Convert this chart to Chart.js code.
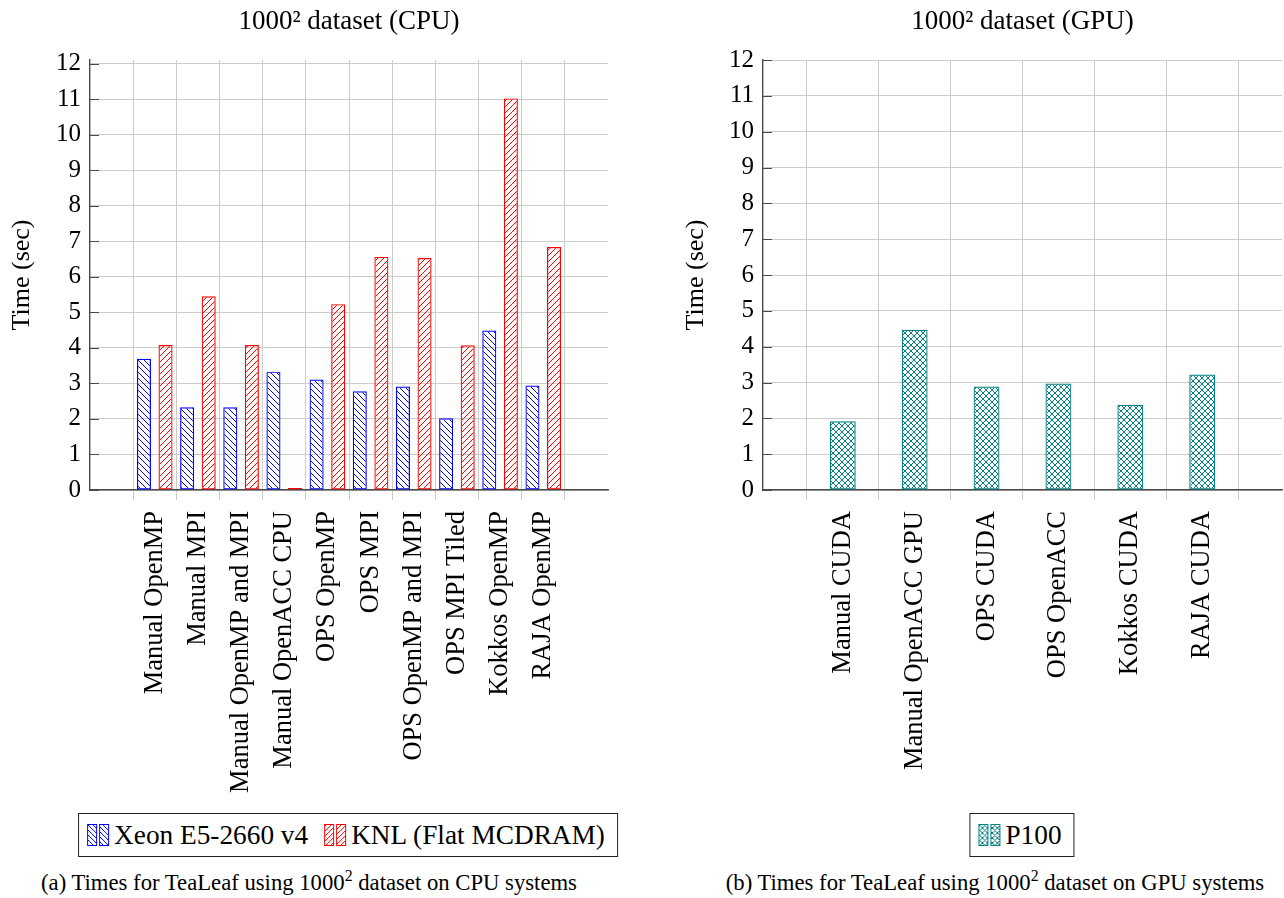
<!DOCTYPE html>
<html lang="en">
<head>
  <meta charset="UTF-8" />
  <title>TeaLeaf 1000^2 timings</title>
  <script src="https://cdn.jsdelivr.net/npm/chart.js"></script>
  <style>
    body {
      margin: 0;
      background: #fff;
      font-family: "Liberation Serif", serif;
      color: #000;
    }
    .wrap {
      position: relative;
      width: 1284px;
      height: 898px;
      overflow: hidden;
    }
    .wrap > canvas {
      position: absolute;
      top: 0;
    }
    #cpuChart { left: 0; }
    #gpuChart { left: 650px; }
    .legend {
      position: absolute;
      top: 813px;
      height: 44px;
      box-sizing: border-box;
      border: 1.3px solid #222;
      display: flex;
      align-items: center;
      padding: 0 12px 0 7px;
      font-size: 27.3px;
      white-space: nowrap;
      transform: translateX(-50%);
    }
    .legend canvas { margin-right: 4px; }
    .legend .gap { width: 15px; }
    .caption {
      position: absolute;
      top: 870px;
      font-size: 22.7px;
      line-height: 26px;
      white-space: nowrap;
      transform: translateX(-50%);
    }
    .caption sup {
      font-size: 0.7em;
      line-height: 0;
    }
  </style>
</head>
<body>
  <div class="wrap">
    <canvas id="cpuChart" width="620" height="800"></canvas>
    <canvas id="gpuChart" width="634" height="800"></canvas>
    <div class="legend" id="cpuLegend" style="left:348px"></div>
    <div class="legend" id="gpuLegend" style="left:1022px"></div>
    <div class="caption" style="left:309px">(a) Times for TeaLeaf using 1000<sup>2</sup> dataset on CPU systems</div>
    <div class="caption" style="left:995px">(b) Times for TeaLeaf using 1000<sup>2</sup> dataset on GPU systems</div>
  </div>

  <script>
    // values (seconds)
    const cpuLabels = ['Manual OpenMP', 'Manual MPI', 'Manual OpenMP and MPI', 'Manual OpenACC CPU',
      'OPS OpenMP', 'OPS MPI', 'OPS OpenMP and MPI', 'OPS MPI Tiled', 'Kokkos OpenMP', 'RAJA OpenMP'];
    const xeonTimes = [3.69, 2.33, 2.33, 3.33, 3.11, 2.78, 2.91, 2.02, 4.49, 2.94];
    const knlTimes = [4.08, 5.45, 4.08, 0, 5.23, 6.56, 6.53, 4.07, 11.02, 6.84];

    const gpuLabels = ['Manual CUDA', 'Manual OpenACC GPU', 'OPS CUDA', 'OPS OpenACC', 'Kokkos CUDA', 'RAJA CUDA'];
    const p100Times = [1.92, 4.47, 2.89, 2.97, 2.38, 3.22];

    const GRID = '#cccccc';
    const AXIS = '#4a4a4a';
    const FONT = 'Liberation Serif';

    Chart.defaults.font.family = FONT;
    Chart.defaults.color = '#000';

    // small repeating hatch tiles, like pgfplots patterns
    function hatch(color, kind, size) {
      const s = size || 6;
      const c = document.createElement('canvas');
      c.width = c.height = s;
      const g = c.getContext('2d');
      g.strokeStyle = color;
      g.lineWidth = 1;
      g.beginPath();
      if (kind !== 'ne') {
        g.moveTo(0, 0); g.lineTo(s, s);
        g.moveTo(-1, s - 1); g.lineTo(1, s + 1);
        g.moveTo(s - 1, -1); g.lineTo(s + 1, 1);
      }
      if (kind !== 'nw') {
        g.moveTo(0, s); g.lineTo(s, 0);
        g.moveTo(-1, 1); g.lineTo(1, -1);
        g.moveTo(s - 1, s + 1); g.lineTo(s + 1, s - 1);
      }
      g.stroke();
      return g.createPattern(c, 'repeat');
    }

    // short dark tick marks pointing into the plot on the y axis
    const innerYTicks = {
      id: 'innerYTicks',
      beforeDatasetsDraw(chart) {
        const y = chart.scales.y;
        const ctx = chart.ctx;
        ctx.save();
        ctx.strokeStyle = AXIS;
        ctx.lineWidth = 1;
        y.ticks.forEach(t => {
          const py = Math.round(y.getPixelForValue(t.value)) + 0.5;
          ctx.beginPath();
          ctx.moveTo(y.right, py);
          ctx.lineTo(y.right + 9, py);
          ctx.stroke();
        });
        ctx.restore();
      }
    };

    // categories sit at i + 0.5, grid lines at the integers between them
    function xTickValues(n) {
      const v = [];
      for (let i = 0; i <= n; i++) {
        v.push(i);
        if (i < n) v.push(i + 0.5);
      }
      return v;
    }

    function makeOptions(o) {
      return {
        responsive: false,
        animation: false,
        layout: { padding: { left: o.padLeft, right: o.padRight, top: 0, bottom: 0 } },
        plugins: {
          legend: { display: false },
          tooltip: { enabled: false },
          title: {
            display: true,
            text: o.title,
            fullSize: false,
            font: { size: 27, weight: 'normal' },
            padding: { top: 6, bottom: 21.6 }
          }
        },
        scales: {
          x: {
            type: 'linear',
            offset: false,
            min: o.xMin,
            max: o.xMax,
            afterBuildTicks: (scale) => {
              scale.ticks = xTickValues(o.labels.length).map(v => ({ value: v }));
            },
            afterFit: (scale) => { scale.height = 310; },
            ticks: {
              autoSkip: false,
              minRotation: 90,
              maxRotation: 90,
              padding: 11,
              font: { size: 26.5 },
              callback: (value) => Number.isInteger(value) ? '' : o.labels[Math.floor(value)]
            },
            grid: {
              offset: false,
              color: (ctx) => ctx.tick && Number.isInteger(ctx.tick.value) ? GRID : 'rgba(0,0,0,0)',
              lineWidth: 1,
              tickLength: 10
            },
            border: { color: AXIS, width: 1.4 }
          },
          y: {
            min: 0,
            max: o.yMax,
            afterFit: (scale) => { scale.width = o.yWidth; },
            ticks: {
              stepSize: 1,
              includeBounds: false,
              padding: 9,
              font: { size: 25 }
            },
            grid: { color: GRID, lineWidth: 1, drawTicks: false },
            border: { color: AXIS, width: 1.4 },
            title: {
              display: true,
              text: 'Time (sec)',
              font: { size: 26 }
            }
          }
        }
      };
    }

    const toPoints = (arr) => arr.map((v, i) => ({ x: i + 0.5, y: v }));

    const cpuChart = new Chart(document.getElementById('cpuChart'), {
      type: 'bar',
      data: {
        datasets: [
          {
            label: 'Xeon E5-2660 v4',
            data: toPoints(xeonTimes),
            backgroundColor: hatch('#0000ff', 'nw'),
            borderColor: '#0000ff',
            borderWidth: 1.2,
            borderSkipped: false,
            categoryPercentage: 2,
            barPercentage: 0.65,
            hatchKind: 'nw'
          },
          {
            label: 'KNL (Flat MCDRAM)',
            data: toPoints(knlTimes),
            backgroundColor: hatch('#ff0000', 'ne'),
            borderColor: '#ff0000',
            borderWidth: 1.2,
            borderSkipped: false,
            minBarLength: 2,
            categoryPercentage: 2,
            barPercentage: 0.65,
            hatchKind: 'ne'
          }
        ]
      },
      options: makeOptions({
        title: '1000\u00b2 dataset (CPU)',
        labels: cpuLabels,
        xMin: -1, xMax: 11, yMax: 12.1,
        padLeft: 3, padRight: 12, yWidth: 87
      }),
      plugins: [innerYTicks]
    });

    const gpuChart = new Chart(document.getElementById('gpuChart'), {
      type: 'bar',
      data: {
        datasets: [
          {
            label: 'P100',
            data: toPoints(p100Times),
            backgroundColor: hatch('#008080', 'cross'),
            borderColor: '#008080',
            borderWidth: 1.2,
            borderSkipped: false,
            categoryPercentage: 1,
            barPercentage: 0.72,
            hatchKind: 'cross'
          }
        ]
      },
      options: makeOptions({
        title: '1000\u00b2 dataset (GPU)',
        labels: gpuLabels,
        xMin: -0.61, xMax: 6.61, yMax: 12,
        padLeft: 27, padRight: 2, yWidth: 86
      }),
      plugins: [innerYTicks]
    });

    // boxed legends with two little hatched bars per entry
    function buildLegend(chart, el) {
      chart.data.datasets.forEach((ds, i) => {
        if (i > 0) {
          const gap = document.createElement('span');
          gap.className = 'gap';
          el.appendChild(gap);
        }
        const sw = document.createElement('canvas');
        sw.width = 24;
        sw.height = 24;
        const g = sw.getContext('2d');
        g.fillStyle = hatch(ds.borderColor, ds.hatchKind, 5);
        g.strokeStyle = ds.borderColor;
        g.lineWidth = 1;
        [1.5, 13.5].forEach(x => {
          g.fillRect(x, 1.5, 9, 21);
          g.strokeRect(x, 1.5, 9, 21);
        });
        el.appendChild(sw);
        const txt = document.createElement('span');
        txt.textContent = ds.label;
        el.appendChild(txt);
      });
    }

    buildLegend(cpuChart, document.getElementById('cpuLegend'));
    buildLegend(gpuChart, document.getElementById('gpuLegend'));
  </script>
</body>
</html>
